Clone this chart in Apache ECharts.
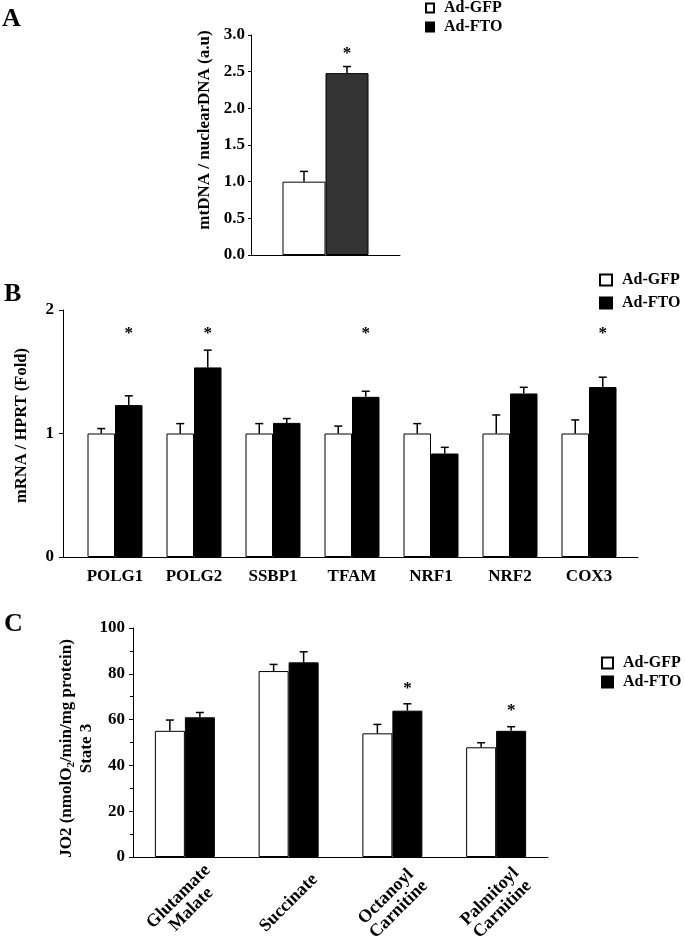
<!DOCTYPE html>
<html>
<head>
<meta charset="utf-8">
<script src="https://cdn.jsdelivr.net/npm/echarts@6/dist/echarts.min.js"></script>
<style>
html,body{margin:0;padding:0;background:#fff;}
#chart{width:685px;height:936px;}
</style>
</head>
<body>
<div id="chart"></div>
<script>
// ---------- DATA ----------
const seriesNames = ['Ad-GFP', 'Ad-FTO'];

// Panel A
const catsA = [''];
const gfpA = [1.0];
const gfpErrA = [0.14];
const ftoA = [2.48];
const ftoErrA = [0.09];
const starA = [2.74];

// Panel B
const catsB = ['POLG1', 'POLG2', 'SSBP1', 'TFAM', 'NRF1', 'NRF2', 'COX3'];
const gfpB = [1.0, 1.0, 1.0, 1.0, 1.0, 1.0, 1.0];
const gfpErrB = [0.04, 0.08, 0.08, 0.06, 0.08, 0.15, 0.11];
const ftoB = [1.23, 1.535, 1.086, 1.297, 0.838, 1.324, 1.376];
const ftoErrB = [0.075, 0.14, 0.035, 0.045, 0.05, 0.05, 0.08];
const starB = [1.81, 1.81, null, 1.81, null, null, 1.81];
const ticksB = ['0', '1', '2'];

// Panel C
const catsC = ['Glutamate\nMalate', 'Succinate', 'Octanoyl\nCarnitine', 'Palmitoyl\nCarnitine'];
const gfpC = [55.1, 81.2, 54.0, 47.9];
const gfpErrC = [4.7, 2.9, 3.9, 2.0];
const ftoC = [61.0, 85.0, 63.9, 55.1];
const ftoErrC = [2.1, 4.6, 3.0, 1.8];
const starC = [null, null, 73.5, 64.0];

// ---------- STYLE ----------
const FONT = "'Liberation Serif','Times New Roman',serif";
const txt = (size) => ({fontFamily: FONT, fontWeight: 'bold', fontSize: size, color: '#000'});
const BW = [43, 27.5, 30];   // bar widths per panel

function errSeries(grid, vals, errs, side) {
  const bw = BW[grid];
  return {
    type: 'custom', xAxisIndex: grid, yAxisIndex: grid, z: 5, silent: true,
    data: vals.map((v, i) => [i, v, errs[i]]),
    encode: {x: 0, y: 1},
    renderItem: function (params, api) {
      const x = api.value(0), v = api.value(1), e = api.value(2);
      const b = api.coord([x, v]);
      const t = api.coord([x, v + e]);
      const cx = b[0] + side * bw / 2;
      const cap = 4;
      const st = {stroke: '#000', lineWidth: 1.5};
      return {type: 'group', children: [
        {type: 'line', shape: {x1: cx, y1: b[1], x2: cx, y2: t[1]}, style: st},
        {type: 'line', shape: {x1: cx - cap, y1: t[1], x2: cx + cap, y2: t[1]}, style: st}
      ]};
    }
  };
}

function starSeries(grid, ys) {
  const bw = BW[grid];
  const d = [];
  ys.forEach((y, i) => { if (y != null) d.push([i, y]); });
  return {
    type: 'custom', xAxisIndex: grid, yAxisIndex: grid, z: 6, silent: true,
    data: d,
    encode: {x: 0, y: 1},
    renderItem: function (params, api) {
      const p = api.coord([api.value(0), api.value(1)]);
      return {type: 'text', x: p[0] + bw / 2, y: p[1],
        style: {text: '*', fill: '#000', font: 'bold 17px ' + FONT,
          textAlign: 'center', textVerticalAlign: 'middle', align: 'center', verticalAlign: 'middle'}};
    }
  };
}

function legendAt(left, top, iw, ih, gap, ftoColor) {
  return {
    left: left, top: top, padding: 0, orient: 'vertical', itemWidth: iw, itemHeight: ih, itemGap: gap,
    selectedMode: false, icon: 'rect',
    data: [{name: 'Ad-GFP'}, {name: 'Ad-FTO', itemStyle: {color: ftoColor}}],
    textStyle: Object.assign(txt(16), {padding: [0, 0, 0, 5]})
  };
}

const yAxisBase = (grid) => ({
  type: 'value', gridIndex: grid, splitLine: {show: false},
  axisLine: {show: true, lineStyle: {color: '#000', width: 1}},
  axisTick: {show: true, length: 4, lineStyle: {color: '#000'}},
  nameLocation: 'middle', nameMoveOverlap: false
});

const chart = echarts.init(document.getElementById('chart'), null, {renderer: 'canvas'});
const option = {
  backgroundColor: '#fff',
  animation: false,
  title: [
    {text: 'A', left: 2, top: 6, padding: 0, textStyle: txt(26)},
    {text: 'B', left: 4, top: 281, padding: 0, textStyle: txt(26)},
    {text: 'C', left: 4, top: 611, padding: 0, textStyle: txt(26)}
  ],
  legend: [
    legendAt(425, 0, 8, 9, 3, '#000'),
    legendAt(599, 272, 12, 11, 7, '#000'),
    legendAt(601, 655, 11, 11, 3, '#000')
  ],
  grid: [
    {left: 251, width: 149, top: 35, height: 220, outerBoundsMode: 'none'},
    {left: 75.5, width: 553, top: 310, height: 247, outerBoundsMode: 'none'},
    {left: 133, width: 415, top: 628, height: 229, outerBoundsMode: 'none'},
    {left: 63, width: 575, top: 310, height: 247, outerBoundsMode: 'none'}
  ],
  xAxis: [
    {type: 'category', gridIndex: 0, data: catsA,
     axisLine: {onZero: false, lineStyle: {color: '#000'}}, axisTick: {show: false}, axisLabel: {show: false}},
    {type: 'category', gridIndex: 1, data: catsB,
     axisLine: {show: false}, axisTick: {show: false},
     axisLabel: Object.assign(txt(17), {interval: 0, margin: 11})},
    {type: 'category', gridIndex: 2, data: catsC,
     axisLine: {onZero: false, lineStyle: {color: '#000'}}, axisTick: {show: false},
     axisLabel: Object.assign(txt(18), {interval: 0, rotate: 45, align: 'center', verticalAlign: 'middle', margin: 46, lineHeight: 18})},
    {type: 'category', gridIndex: 3, data: [''],
     axisLine: {onZero: false, lineStyle: {color: '#000'}}, axisTick: {show: false}, axisLabel: {show: false}}
  ],
  yAxis: [
    Object.assign(yAxisBase(0), {
      min: 0, max: 3, interval: 0.5,
      axisTick: {show: true, length: 3, lineStyle: {color: '#000'}},
      axisLabel: Object.assign(txt(17), {margin: 6, formatter: v => v.toFixed(1)}),
      name: 'mtDNA / nuclearDNA (a.u)', nameGap: 38,
      nameTextStyle: Object.assign(txt(17), {padding: [0, 0, 0, 30]})
    }),
    Object.assign(yAxisBase(1), {
      min: 0, max: 2, interval: 1, offset: 12.5,
      axisLabel: Object.assign(txt(17), {margin: 9, formatter: v => ticksB[v]}),
      name: 'mRNA / HPRT (Fold)', nameGap: 33,
      nameTextStyle: Object.assign(txt(16.5), {padding: [0, 0, 0, 16]})
    }),
    Object.assign(yAxisBase(2), {
      min: 0, max: 100, interval: 20,
      minorTick: {show: true, splitNumber: 2, length: 3, lineStyle: {color: '#000'}},
      axisLabel: Object.assign(txt(17), {margin: 8}),
      name: '{a|JO2 (nmolO}{s|2}{a|/min/mg protein)}\n{a|State 3}', nameGap: 36,
      nameTextStyle: {padding: [0, 12, 0, 0], rich: {
        a: Object.assign(txt(17), {lineHeight: 20}),
        s: Object.assign(txt(11), {lineHeight: 12, verticalAlign: 'bottom'})
      }}
    }),
    {type: 'value', gridIndex: 3, show: false, min: 0, max: 1}
  ],
  series: [
    {type: 'bar', name: 'Ad-GFP', xAxisIndex: 0, yAxisIndex: 0, data: gfpA, barWidth: BW[0], barGap: '0%',
     itemStyle: {color: '#fff', borderColor: '#000', borderWidth: 1}},
    {type: 'bar', name: 'Ad-FTO', xAxisIndex: 0, yAxisIndex: 0, data: ftoA, barWidth: BW[0], barGap: '0%',
     itemStyle: {color: '#333', borderColor: '#000', borderWidth: 1}},
    {type: 'bar', name: 'Ad-GFP', xAxisIndex: 1, yAxisIndex: 1, data: gfpB, barWidth: BW[1], barGap: '0%',
     itemStyle: {color: '#fff', borderColor: '#000', borderWidth: 1}},
    {type: 'bar', name: 'Ad-FTO', xAxisIndex: 1, yAxisIndex: 1, data: ftoB, barWidth: BW[1], barGap: '0%',
     itemStyle: {color: '#000', borderColor: '#000', borderWidth: 1}},
    {type: 'bar', name: 'Ad-GFP', xAxisIndex: 2, yAxisIndex: 2, data: gfpC, barWidth: BW[2], barGap: '0%',
     itemStyle: {color: '#fff', borderColor: '#000', borderWidth: 1}},
    {type: 'bar', name: 'Ad-FTO', xAxisIndex: 2, yAxisIndex: 2, data: ftoC, barWidth: BW[2], barGap: '0%',
     itemStyle: {color: '#000', borderColor: '#000', borderWidth: 1}},
    errSeries(0, gfpA, gfpErrA, -1), errSeries(0, ftoA, ftoErrA, 1),
    errSeries(1, gfpB, gfpErrB, -1), errSeries(1, ftoB, ftoErrB, 1),
    errSeries(2, gfpC, gfpErrC, -1), errSeries(2, ftoC, ftoErrC, 1),
    starSeries(0, starA), starSeries(1, starB), starSeries(2, starC)
  ]
};
chart.setOption(option);
</script>
</body>
</html>
